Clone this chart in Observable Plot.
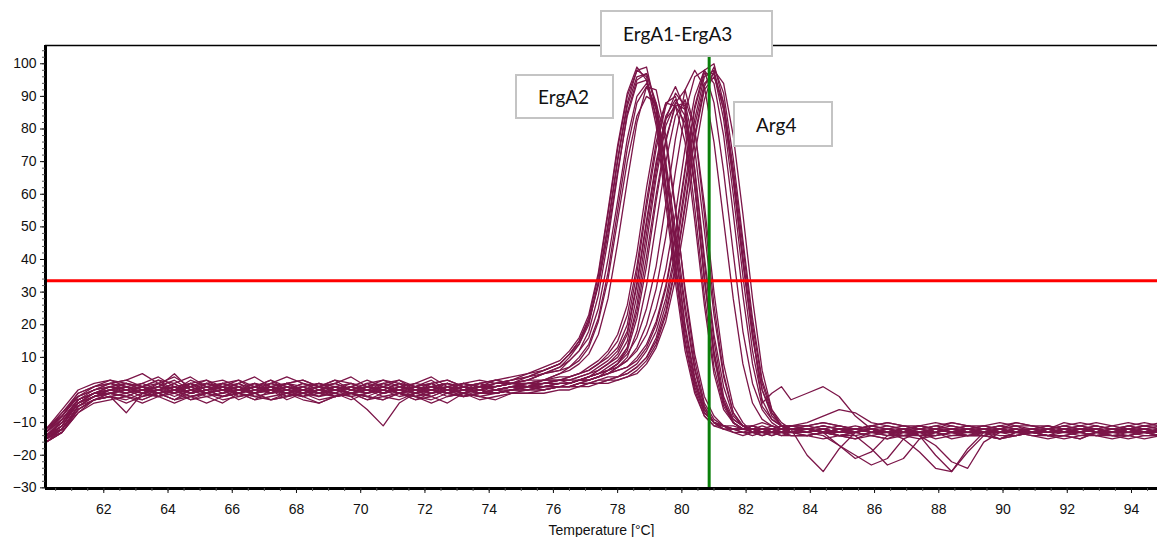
<!DOCTYPE html>
<html><head><meta charset="utf-8">
<script src="https://cdn.jsdelivr.net/npm/d3@7"></script>
<script src="https://cdn.jsdelivr.net/npm/@observablehq/plot@0.6"></script>
<style>
html,body{margin:0;padding:0;background:#fff;}
#wrap{position:relative;width:1157px;height:537px;overflow:hidden;}
#wrap svg{display:block;}
.tag{position:absolute;box-sizing:border-box;background:#fff;border:2px solid #c4c4c4;font-family:Lato,"Open Sans",sans-serif;font-size:19px;color:#111;display:flex;align-items:center;padding-left:21px;white-space:nowrap;}
</style></head><body><div id="wrap"></div>
<script>
// Temperatures (°C) shared by all curves
const temps = [60.2,60.7,61.2,61.7,62.2,62.7,63.2,63.7,64.2,64.7,65.2,65.7,66.2,66.7,67.2,67.7,68.2,68.7,69.2,69.7,70.2,70.7,71.2,71.7,72.2,72.7,73.2,73.7,74.2,74.7,75.2,75.7,76.2,
76.5,76.8,77.1,77.4,77.7,78.0,78.3,78.6,78.9,79.2,79.5,79.8,80.1,80.4,80.7,81.0,81.3,81.6,81.9,82.2,82.5,82.8,83.1,83.4,
83.9,84.4,84.9,85.4,85.9,86.4,86.9,87.4,87.9,88.4,88.9,89.4,89.9,90.4,90.9,91.4,91.9,92.4,92.9,93.4,93.9,94.4,94.9];

// Melt curves, ErgA2 group
const ergA2 = [
[-14,-10,-3,-1,0,1,-1,0,2,-1, 0,1,-1,0,1,-2,0,1,0,-1, 1,0,-1,1,0,-1,1,0,1,2, 3,5,7,
 10,14,20,33,51,71,88,98,99,86, 63,38,15,1,-7,-10,-11,-12,-12,-13, -12,-12,-13,-12,
 -12,-13,-12,-13,-12,-13,-12,-13,-12,-13, -12,-13,-13,-12,-13,-12,-13,-13,-12,-13, -12,-13,-13],
[-15,-12,-5,-2,-1,0,1,-2,0,1, -1,0,2,0,-1,1,0,-2,1,0, -1,1,0,-1,2,0,-1,1,2,3, 4,6,8,
 11,15,22,35,54,74,90,98,96,83, 60,36,14,0,-8,-11,-12,-12,-13,-12, -13,-12,-13,-13,
 -13,-12,-14,-13,-12,-13,-14,-13,-12,-13, -14,-13,-12,-13,-13,-14,-12,-13,-14,-13, -12,-13,-14],
[-13,-8,-2,0,2,1,-1,1,5,0, -1,2,1,-1,0,2,1,-1,0,2, 0,-1,1,0,1,2,0,1,2,2, 3,5,6,
 7,9,13,21,34,52,70,84,90,88, 76,55,31,11,-2,-8,-11,-12,-12,-11, -12,-12,-11,-12,
 -12,-11,-12,-12,-11,-12,-13,-11,-12,-12, -11,-12,-12,-11,-13,-12,-11,-12,-12,-13, -11,-12,-12],
[-16,-13,-6,-3,-2,-1,-3,-1,0,-2, -1,0,-3,-1,0,-2,-1,0,-2,-1, -3,-1,0,-2,-1,0,-2,-1,0,1, 2,3,5,
 6,8,11,17,28,45,64,82,93,92, 78,56,30,9,-4,-9,-11,-13,-13,-14, -13,-14,-13,-14,
 -14,-13,-14,-13,-14,-15,-13,-14,-13,-14, -14,-13,-15,-14,-13,-14,-14,-15,-13,-14, -14,-13,-14],
[-14,-11,-4,-2,-1,1,0,-1,1,-1, 0,2,0,-1,1,0,-2,0,1,-1, 0,1,-1,0,1,-1,0,1,1,2, 4,6,8,
 11,14,21,33,50,70,87,96,97,87, 67,43,19,3,-7,-10,-11,-12,-12,-12, -13,-12,-12,-13,
 -12,-13,-12,-14,-18,-23,-21,-15,-13,-12, -13,-12,-13,-12,-13,-12,-13,-12,-13,-12, -13,-12,-13],
[-15,-9,-3,-1,1,0,2,0,-1,1, 3,0,-1,1,0,2,0,-1,1,0, 2,-1,0,1,0,2,1,0,2,3, 4,5,7,
 9,12,16,25,40,58,77,90,94,86, 68,46,24,6,-5,-10,-12,-12,-13,-13, -12,-13,-13,-12,
 -13,-12,-13,-13,-12,-13,-12,-13,-13,-12, -13,-12,-13,-13,-12,-13,-12,-12,-13,-13, -12,-13,-12],
[-14,-12,-5,-2,0,-1,1,-1,0,2, -1,0,1,-1,2,0,1,-1,0,1, -1,0,2,-1,0,1,-1,2,1,2, 3,5,6,
 9,12,18,29,46,66,85,95,97,88, 68,44,20,4,-6,-10,-11,-12,-12,-12, -13,-12,-13,-12,
 -12,-13,-12,-12,-13,-12,-13,-12,-13,-12, -12,-13,-12,-13,-12,-13,-12,-13,-12,-13, -12,-13,-13],
[-13,-7,-2,1,2,3,5,2,0,3, 1,2,0,1,3,1,0,2,1,0, 2,1,3,0,1,2,0,1,3,4, 5,7,9,
 12,16,23,36,55,75,91,99,95,81, 57,33,12,-1,-8,-11,-11,-12,-12,-11, -12,-12,-11,-12,
 -11,-12,-11,-12,-12,-11,-12,-11,-12,-12, -11,-12,-11,-12,-12,-11,-12,-11,-12,-12, -11,-12,-11],
[-15,-12,-6,-3,-2,-3,-1,-2,-4,-2, -1,-3,-2,-1,-3,-2,-1,-3,-2,-1, -2,-3,-1,-2,-3,-1,-2,-1,-1,0, 1,3,5,
 7,10,14,22,36,55,74,88,93,87, 70,49,26,7,-5,-10,-12,-13,-14,-13, -14,-13,-14,-14,
 -14,-15,-14,-13,-14,-15,-14,-14,-13,-15, -14,-14,-15,-13,-14,-14,-15,-14,-13,-14, -15,-14,-14],
[-12,-6,0,2,3,1,2,4,1,2, 3,1,2,4,1,2,3,1,2,0, 2,3,1,2,4,1,2,3,2,3, 5,6,8,
 11,15,21,32,48,67,84,94,95,84, 62,39,17,2,-6,-10,-11,-11,-12,-11, -12,-11,-12,-11,
 -11,-10,-11,-12,-11,-10,-11,-12,-11,-10, -11,-11,-12,-10,-11,-12,-11,-10,-11,-12, -11,-10,-11]
];

// Melt curves, ErgA1-ErgA3 group
const ergA1A3 = [
[-14,-9,-3,-1,0,-1,1,0,-2,0, 1,-1,0,1,-1,0,2,0,-1,1, 0,-1,0,1,-1,0,1,-1,0,1, 0,1,2,
 2,3,4,6,8,10,15,29,48,67, 83,91,87,67,39,15,-2,-9,-11,-12, -12,-13,-12,-13,
 -13,-12,-13,-12,-13,-13,-12,-13,-12,-13, -13,-12,-13,-12,-13,-13,-12,-13,-12,-13, -13,-12,-13],
[-15,-12,-5,-2,-1,0,-2,0,1,-1, 0,-2,-1,1,0,-1,0,-2,-1,-2, -6,-11,-4,-1,0,-1,1,0,-1,0, 1,2,3,
 3,4,5,7,9,12,18,33,52,70, 84,89,84,63,35,12,-3,-10,-12,-12, -13,-13,-12,-13,
 -12,-13,-13,-12,-13,-12,-13,-13,-12,-13, -12,-13,-13,-12,-13,-12,-13,-13,-12,-13, -12,-13,-13],
[-13,-8,-2,0,1,2,0,1,3,0, 2,1,0,2,1,-1,1,2,0,1, 3,1,0,2,1,0,2,1,1,2, 2,3,3,
 4,5,7,9,12,17,26,42,62,79, 88,87,76,52,26,5,-6,-10,-12,-12, -11,-12,-12,-11,
 -12,-11,-12,-12,-11,-12,-12,-11,-12,-11, -12,-12,-11,-12,-12,-11,-12,-12,-11,-12, -12,-11,-12],
[-16,-13,-7,-3,-2,-7,-1,-2,0,-3, -1,-2,0,-1,-3,-2,0,-1,-2,-1, 0,-2,-3,-1,-2,0,-1,-2,-1,0, 0,1,1,
 1,2,3,4,5,7,10,18,32,51, 70,84,89,80,57,30,8,-5,-10,-13, -13,-14,-13,-14,
 -14,-13,-14,-14,-13,-14,-13,-14,-14,-13, -14,-14,-13,-14,-13,-14,-14,-13,-14,-14, -13,-14,-14],
[-14,-10,-4,-1,1,0,-1,2,0,1, -1,0,2,-1,0,1,-1,0,1,2, 0,-1,1,0,2,-1,0,1,0,1, 1,2,3,
 3,4,5,6,8,11,17,32,51,69, 83,87,82,62,34,11,-4,-10,-12,-12, -13,-12,-13,-12,
 -20,-25,-18,-13,-12,-13,-12,-13,-12,-13, -12,-12,-13,-12,-13,-12,-13,-12,-12,-13, -12,-13,-12],
[-15,-11,-4,-2,0,1,-1,0,2,-1, 1,0,-1,1,3,0,-1,1,0,-1, 1,0,2,-1,0,1,-1,0,1,2, 1,2,3,
 4,5,6,8,11,15,23,38,58,76, 88,90,80,56,29,7,-5,-10,-12,-12, -12,-12,-13,-12,
 -12,-13,-12,-12,-13,-12,-13,-12,-12,-13, -12,-13,-12,-12,-13,-12,-12,-13,-12,-13, -12,-12,-13],
[-13,-9,-3,-1,-1,-2,0,-1,-3,0, -2,-1,1,-2,-1,0,-2,-1,0,-2, -1,1,-1,-2,0,-1,-2,0,-1,0, 1,1,2,
 2,3,4,5,7,9,13,26,45,65, 81,88,86,68,41,17,1,-8,-11,-12, -13,-13,-12,-13,
 -13,-12,-13,-13,-12,-13,-15,-19,-24,-25, -18,-13,-12,-13,-13,-12,-13,-13,-12,-13, -13,-12,-13],
[-14,-10,-4,-1,0,2,1,-1,0,2, 0,1,-1,0,2,1,-1,0,2,0, 1,-1,0,1,3,0,1,2,0,1, 2,2,3,
 2,3,4,5,6,8,12,22,38,58, 76,88,92,80,54,26,5,-7,-11,-12, -12,-13,-12,-12,
 -12,-12,-13,-12,-12,-13,-12,-12,-13,-12, -13,-12,-12,-13,-12,-12,-13,-12,-12,-13, -12,-12,-13],
[-16,-13,-7,-4,-3,-2,-4,-2,-1,-3, -2,-4,-1,-2,-3,-1,-2,-4,-2,-1, -3,-2,-1,-3,-2,-4,-1,-2,-3,-1, -1,0,1,
 1,2,3,4,6,8,13,24,41,60, 77,87,88,74,49,23,4,-7,-11,-13, -14,-13,-14,-13,
 -14,-13,-14,-15,-13,-14,-14,-13,-15,-14, -13,-14,-15,-14,-13,-14,-14,-15,-13,-14, -14,-15,-14],
[-12,-7,-1,1,2,3,1,2,4,1, 2,3,1,2,0,2,3,1,2,4, 1,2,3,1,2,3,1,2,3,2, 3,3,4,
 4,5,6,8,10,13,20,36,56,74, 87,93,86,63,34,10,-4,-9,-11,-11, -10,-11,-12,-11,
 -11,-10,-11,-12,-11,-10,-11,-11,-12,-10, -11,-12,-11,-10,-11,-11,-12,-11,-10,-11, -12,-11,-10]
];

// Melt curves, Arg4 group
const arg4 = [
[-14,-11,-4,-2,0,1,-1,0,1,-1, 0,1,0,-1,1,0,2,0,-1,1, 0,-1,1,0,-1,1,0,-1,0,1, 1,0,1,
 1,2,2,3,4,4,6,8,12,18, 28,43,63,83,96,98,86,64,39,16, 0,-7,-11,-12,
 -12,-13,-12,-13,-12,-13,-13,-12,-13,-12, -13,-13,-12,-13,-12,-13,-13,-12,-13,-12, -13,-13,-12],
[-15,-12,-6,-3,-1,-2,0,-1,-3,-1, 0,-2,-1,-3,0,-1,-2,0,-1,-3, -1,0,-2,-1,0,-2,-1,0,-1,0, 0,1,1,
 1,1,2,2,3,4,5,7,10,16, 26,41,61,81,94,97,86,65,40,18, -4,-1,1,-3,
 -1,1,-2,-8,-12,-13,-12,-13,-12,-13, -13,-12,-13,-12,-13,-13,-12,-13,-12,-13, -13,-12,-13],
[-13,-8,-2,0,2,0,1,3,0,1, 2,0,1,-1,1,2,0,1,3,0, 1,0,2,1,0,1,2,0,1,2, 1,2,2,
 2,3,3,4,5,6,7,10,14,21, 32,48,68,87,98,100,88,66,41,17, 0,-8,-11,-11,
 -12,-11,-12,-11,-12,-12,-11,-12,-11,-12, -12,-11,-12,-11,-12,-12,-11,-12,-11,-12, -12,-11,-12],
[-16,-12,-5,-3,-1,-2,-3,-1,0,-2, -1,1,-2,-1,0,-3,-1,-2,0,-1, -2,0,-1,-3,-1,0,-2,-1,0,-1, 0,0,1,
 1,1,2,2,3,3,4,6,9,14, 23,37,56,77,92,96,88,68,44,20, 2,-7,-11,-13,
 -13,-14,-17,-20,-23,-21,-15,-13,-14,-13, -14,-13,-14,-14,-13,-14,-13,-14,-14,-13, -14,-13,-14],
[-14,-10,-3,-1,1,-1,0,2,-1,0, 1,-1,0,2,-1,1,0,-1,1,0, -1,2,0,-1,1,0,1,-1,0,1, 0,1,1,
 2,3,3,4,5,7,9,13,20,31, 47,67,85,96,98,88,67,42,18,2, -6,-10,-12,-12,
 -13,-12,-13,-13,-12,-13,-12,-14,-17,-22, -24,-16,-13,-12,-13,-12,-13,-13,-12,-13, -12,-13,-13],
[-15,-11,-4,-1,0,1,-1,1,0,-1, 2,0,-1,1,0,2,-1,0,1,-1, 0,1,0,-1,1,2,0,1,-1,0, 1,1,2,
 2,3,4,5,6,8,11,16,25,38, 57,77,92,98,93,76,52,28,8,-4, -9,-11,-12,-12,
 -12,-13,-17,-21,-19,-14,-12,-13,-12,-13, -12,-13,-13,-12,-13,-12,-13,-12,-13,-13, -12,-13,-12],
[-14,-12,-5,-2,-1,0,-2,0,1,-1, 0,-2,0,1,-1,0,-1,1,-2,0, -1,1,-1,0,-2,0,1,-1,0,0, 1,0,1,
 1,2,2,3,3,4,5,7,10,15, 24,38,57,78,93,99,91,71,46,22, 3,-6,-10,-12,
 -13,-12,-13,-12,-13,-12,-13,-13,-12,-13, -12,-13,-12,-13,-13,-12,-13,-12,-13,-12, -13,-13,-12],
[-13,-9,-3,0,1,2,0,1,-1,2, 0,1,3,0,1,-1,1,2,0,1, 0,2,1,-1,1,0,2,1,0,1, 2,1,2,
 2,3,3,4,5,6,7,9,13,20, 31,47,67,86,97,97,83,60,35,12, -3,-9,-11,-12,
 -12,-13,-12,-13,-12,-13,-12,-14,-20,-25, -19,-14,-12,-13,-12,-13,-12,-13,-12,-13, -12,-13,-12],
[-15,-13,-6,-3,-2,-4,-2,-1,-3,-2, -4,-2,-1,-3,-2,-1,-3,-4,-2,-1, -2,-3,-1,-2,-4,-2,-1,-3,-2,-1, -1,-1,0,
 0,1,1,2,2,3,4,5,8,13, 21,34,52,72,89,98,94,78,54,28, 6,-6,-11,-13,
 -14,-13,-14,-15,-14,-13,-14,-15,-14,-13, -14,-14,-15,-13,-14,-15,-14,-13,-14,-15, -14,-13,-14],
[-12,-8,-1,1,3,2,1,3,2,4, 1,2,3,1,2,4,2,1,3,2, 1,3,2,1,2,3,1,2,3,2, 2,3,3,
 3,3,4,5,6,7,9,12,17,25, 37,54,74,90,98,94,78,54,29,8, -5,-9,-11,-11,
 -10,-8,-6,-7,-10,-11,-12,-11,-10,-11, -12,-11,-10,-11,-11,-12,-10,-11,-12,-11, -10,-11,-11]
];

const threshold = 33.5;      // red horizontal threshold line
const markerTemp = 80.85;    // green vertical marker
const yTicks = [-30,-20,-10,0,10,20,30,40,50,60,70,80,90,100];
const xTicks = [62,64,66,68,70,72,74,76,78,80,82,84,86,88,90,92,94];
const groupLabels = ["ErgA1-ErgA3", "ErgA2", "Arg4"];
const xTitle = "Temperature [°C]";

// Build long table
const rows = [];
[["ErgA2", ergA2], ["ErgA1-ErgA3", ergA1A3], ["Arg4", arg4]].forEach(([g, curves]) => {
  curves.forEach((vals, i) => {
    if (vals.length !== temps.length) throw new Error(g + " curve " + i + " has " + vals.length + " values");
    vals.forEach((v, j) => rows.push({curve: g + "-" + i, t: temps[j], v}));
  });
});

const xDomain = [60.185, 94.81];
const yDomain = [-30.2, 105.6];
const minorY = d3.range(-30, 105, 2);
const minorX = d3.range(60.5, 94.81, 0.5);

const chart = Plot.plot({
  width: 1157, height: 537,
  marginLeft: 45, marginRight: 0, marginTop: 45, marginBottom: 49,
  x: {domain: xDomain, axis: null},
  y: {domain: yDomain, axis: null},
  style: {fontFamily: '"Liberation Sans", Arial, sans-serif', fontSize: "14px", color: "#111", background: "#fff"},
  marks: [
    Plot.line(rows, {x: "t", y: "v", z: "curve", stroke: "#7b1548", strokeWidth: 1.3, clip: true}),
    Plot.ruleY([threshold], {stroke: "#ff0000", strokeWidth: 3}),
    Plot.ruleX([markerTemp], {stroke: "#0a7f0a", strokeWidth: 3}),
    Plot.ruleY([yDomain[1]], {stroke: "#000", strokeWidth: 1.5}),
    Plot.ruleY([yDomain[0]], {stroke: "#000", strokeWidth: 3}),
    Plot.ruleX([xDomain[0]], {stroke: "#000", strokeWidth: 3}),
    Plot.axisY({ticks: minorY, tickSize: 3, tickFormat: () => "", label: null, stroke: "#555"}),
    Plot.axisY({ticks: yTicks, tickSize: 5, tickPadding: 4, label: null, fontSize: 14}),
    Plot.axisX({ticks: minorX, tickSize: 3, tickFormat: () => "", label: null, stroke: "#555"}),
    Plot.axisX({ticks: xTicks, tickSize: 5, tickPadding: 11, label: null, fontSize: 14}),
    Plot.text([xTitle], {frameAnchor: "bottom", dy: 46, fontSize: 14, fill: "#111"})
  ]
});

const wrap = document.getElementById("wrap");
wrap.appendChild(chart);

// Label boxes (overlay)
const boxes = [
  {text: groupLabels[0], left: 600, top: 10, w: 173, h: 47},
  {text: groupLabels[1], left: 515, top: 74, w: 99, h: 45},
  {text: groupLabels[2], left: 733, top: 101, w: 100, h: 46}
];
boxes.forEach(b => {
  const d = document.createElement("div");
  d.className = "tag";
  d.style.left = b.left + "px"; d.style.top = b.top + "px";
  d.style.width = b.w + "px"; d.style.height = b.h + "px";
  d.textContent = b.text;
  wrap.appendChild(d);
});
</script></body></html>
